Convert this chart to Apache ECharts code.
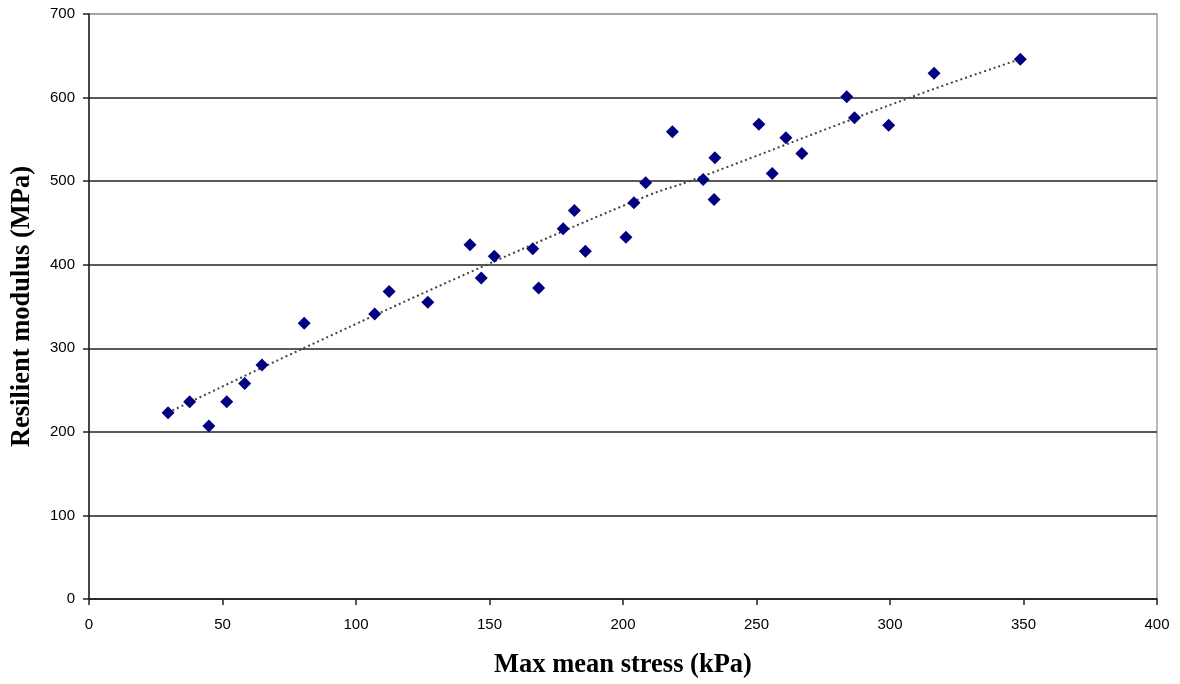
<!DOCTYPE html>
<html>
<head>
<meta charset="utf-8">
<script src="https://cdn.jsdelivr.net/npm/echarts@6/dist/echarts.min.js"></script>
<style>
html,body{margin:0;padding:0;background:#fff;}
#chart{width:1180px;height:684px;}
</style>
</head>
<body>
<div id="chart"></div>
<script>
// Measured data (Max mean stress kPa, Resilient modulus MPa)
const stressX = [29.6, 37.7, 44.9, 51.6, 58.3, 64.8, 80.6, 107.0, 112.4, 126.9, 142.7, 146.9, 151.8, 166.2, 168.4, 177.6, 181.8, 185.9, 201.1, 204.1, 208.5, 218.5, 230.0, 234.4, 234.1, 250.9, 255.9, 261.0, 267.0, 283.8, 286.7, 299.5, 316.5, 348.8];
const modulusY = [223, 236, 207, 236, 258, 280, 330, 341, 368, 355, 424, 384, 410, 419, 372, 443, 465, 416, 433, 474, 498, 559, 502, 528, 478, 568, 509, 552, 533, 601, 576, 567, 629, 646];
// Trendline
const trendX = [29.6, 80.3, 149, 209.5, 225, 307.5, 348.8];
const trendY = [223, 300, 400, 483, 500, 600, 646];
const xTicks = [0, 50, 100, 150, 200, 250, 300, 350, 400];
const yTicks = [0, 100, 200, 300, 400, 500, 600, 700];

const points = stressX.map((x, i) => [x, modulusY[i]]);
const trend = trendX.map((x, i) => [x, trendY[i]]);

const chart = echarts.init(document.getElementById('chart'));
const labelFont = {fontFamily: 'Liberation Sans', fontSize: 15, color: '#000'};
chart.setOption({
  animation: false,
  backgroundColor: '#fff',
  grid: {left: 89, right: 23, top: 14, bottom: 83, show: true, borderColor: '#a0a0a0', borderWidth: 1.5},
  xAxis: {
    type: 'value', min: xTicks[0], max: xTicks[xTicks.length - 1], interval: 50,
    name: 'Max mean stress (kPa)', nameLocation: 'middle', nameGap: 53,
    nameTextStyle: {fontFamily: 'Liberation Serif', fontWeight: 'bold', fontSize: 26.5, color: '#000'},
    axisLine: {show: true, onZero: false, lineStyle: {color: '#222', width: 1.5}},
    axisTick: {show: true, length: 6, lineStyle: {color: '#222', width: 1.5}},
    axisLabel: Object.assign({margin: 18}, labelFont),
    splitLine: {show: false}
  },
  yAxis: {
    type: 'value', min: yTicks[0], max: yTicks[yTicks.length - 1], interval: 100,
    name: 'Resilient modulus (MPa)', nameLocation: 'middle', nameGap: 53, nameRotate: 90,
    nameTextStyle: {fontFamily: 'Liberation Serif', fontWeight: 'bold', fontSize: 26.5, color: '#000'},
    axisLine: {show: true, onZero: false, lineStyle: {color: '#222', width: 1.5}},
    axisTick: {show: true, length: 6, lineStyle: {color: '#222', width: 1.5}},
    axisLabel: Object.assign({margin: 14}, labelFont),
    splitLine: {show: true, lineStyle: {color: ['#222', '#222', '#222', '#222', '#222', '#222', '#222', '#a0a0a0'], width: 1.5}}
  },
  series: [
    {
      type: 'line', data: trend, smooth: 0.4, showSymbol: false, symbol: 'none',
      lineStyle: {type: [2, 3], color: '#444', width: 2}, z: 2
    },
    {
      type: 'scatter', data: points, symbol: 'diamond', symbolSize: 13,
      itemStyle: {color: '#000080', opacity: 1}, z: 3
    }
  ]
});
</script>
</body>
</html>
